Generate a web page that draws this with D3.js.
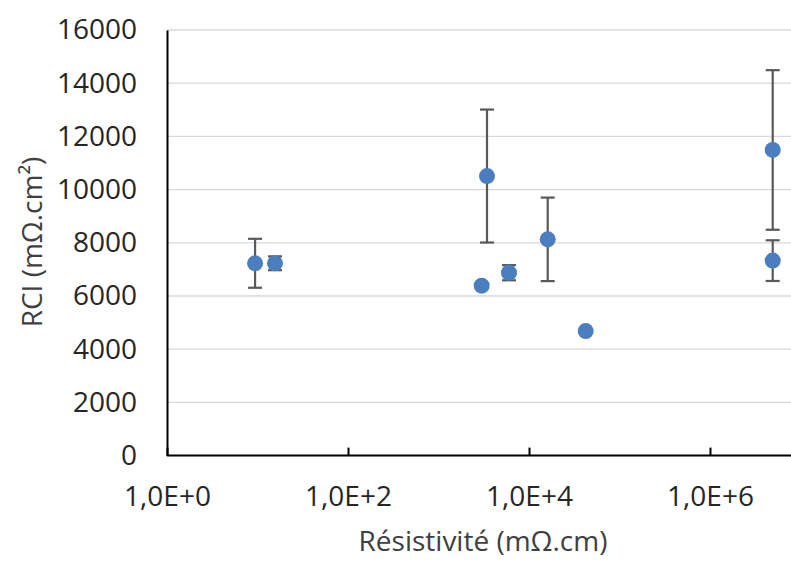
<!DOCTYPE html>
<html><head><meta charset="utf-8">
<script src="https://cdn.jsdelivr.net/npm/d3@7"></script>
<style>body{margin:0;background:#fff}svg{display:block}</style>
</head><body>
<svg id="c" width="791" height="561"></svg>
<script>
const resistivity = [9.4, 15.6, 3000, 3435, 6010, 16100, 42300, 4.93e6, 4.93e6];
const rci = [7230, 7230, 6387, 10510, 6875, 8130, 4680, 11490, 7330];
const rciErr = [920, 260, 0, 2500, 285, 1570, 0, 3000, 765];
const yTicks = [0, 2000, 4000, 6000, 8000, 10000, 12000, 14000, 16000];
const xTicks = [1, 1e2, 1e4, 1e6];
const xTickLabels = ["1,0E+0", "1,0E+2", "1,0E+4", "1,0E+6"];

const svg = d3.select("#c");
const font = "'Open Sans', sans-serif";
const x = d3.scaleLog().domain([1, 1e7]).range([167, 800.5]);
const y = d3.scaleLinear().domain([0, 16000]).range([455.6, 30]);

// gridlines
svg.append("g").selectAll("line").data(yTicks.filter(d => d > 0)).join("line")
  .attr("x1", 167).attr("x2", 791).attr("y1", d => y(d)).attr("y2", d => y(d))
  .attr("stroke", "#d9d9d9").attr("stroke-width", 1.3);

// y axis
const ya = svg.append("g").attr("transform", "translate(167,0)")
  .call(d3.axisLeft(y).tickValues(yTicks).tickSize(0).tickPadding(30).tickFormat(d3.format("d")));
ya.select(".domain").attr("stroke", "#000").attr("stroke-width", 2);
ya.selectAll("text").attr("font-family", font).attr("font-size", 28).attr("fill", "#262626");

// x axis
const xa = svg.append("g").attr("transform", "translate(0,455.6)")
  .call(d3.axisTop(x).tickValues(xTicks).tickSize(8).tickFormat((d, i) => xTickLabels[i]));
xa.select(".domain").attr("stroke", "#000").attr("stroke-width", 2).attr("d", "M167,0H791");
xa.selectAll(".tick line").attr("stroke", "#000").attr("stroke-width", 2);
xa.selectAll("text").attr("font-family", font).attr("font-size", 28).attr("fill", "#262626")
  .attr("y", 50);

// error bars
const eb = svg.append("g");
const data = resistivity.map((r, i) => ({r, v: rci[i], e: rciErr[i]})).filter(d => d.e > 0);
eb.selectAll("line.v").data(data).join("line")
  .attr("x1", d => x(d.r)).attr("x2", d => x(d.r))
  .attr("y1", d => y(d.v - d.e)).attr("y2", d => y(d.v + d.e))
  .attr("stroke", "#595959").attr("stroke-width", 2.2);
["-", "+"].forEach(s => {
  eb.selectAll("line.c" + (s === "+" ? "p" : "m")).data(data).join("line")
    .attr("x1", d => x(d.r) - 7).attr("x2", d => x(d.r) + 7)
    .attr("y1", d => y(s === "+" ? d.v + d.e : d.v - d.e))
    .attr("y2", d => y(s === "+" ? d.v + d.e : d.v - d.e))
    .attr("stroke", "#595959").attr("stroke-width", 2.2);
});

// points
svg.append("g").selectAll("circle").data(resistivity).join("circle")
  .attr("cx", d => x(d)).attr("cy", (d, i) => y(rci[i])).attr("r", 8)
  .attr("fill", "#4a7ebf");

// titles
svg.append("text").attr("x", 483).attr("y", 551).attr("text-anchor", "middle")
  .attr("font-family", font).attr("font-size", 28).attr("fill", "#404040")
  .text("Résistivité (mΩ.cm)");
svg.append("text").attr("transform", "translate(42,242) rotate(-90)").attr("text-anchor", "middle")
  .attr("font-family", font).attr("font-size", 28).attr("fill", "#404040")
  .text("RCI (mΩ.cm²)");
</script>
</body></html>
